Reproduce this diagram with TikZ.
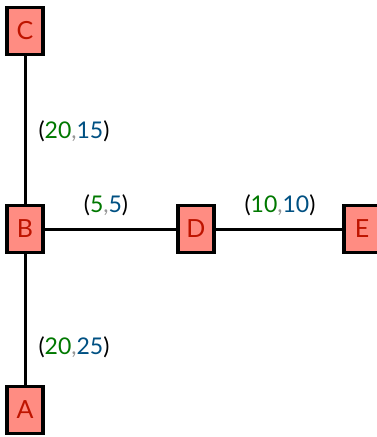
\documentclass[tikz,border=0pt]{standalone}
\usepackage{fontspec}
\setmainfont{Lato}
\definecolor{boxfill}{RGB}{255,140,130}
\definecolor{boxtext}{RGB}{190,20,0}
\definecolor{numgreen}{RGB}{0,120,0}
\definecolor{numblue}{RGB}{0,80,130}
\definecolor{commagray}{RGB}{150,150,150}
\tikzset{
  vbox/.style={draw=black, fill=boxfill, line width=3.2pt, minimum width=36pt, minimum height=47pt, inner sep=0pt, text=boxtext, font=\fontsize{25}{25}\selectfont},
  conn/.style={line width=3pt},
  lbl/.style={font=\fontsize{23}{23}\selectfont, inner sep=0pt}
}
\newcommand{\pairlbl}[2]{(\textcolor{numgreen}{#1}\textcolor{commagray}{,}\textcolor{numblue}{#2})}
\begin{document}
\begin{tikzpicture}[x=1pt,y=-1pt]
\useasboundingbox (0,0) rectangle (377,437);
\clip (0,0) rectangle (377,437);
\node[vbox] (C) at (25,31) {C};
\node[vbox] (B) at (25,229) {B};
\node[vbox] (A) at (25,410) {A};
\node[vbox] (D) at (196,229) {D};
\node[vbox] (E) at (362,229) {E};
\draw[conn] (C) -- (B);
\draw[conn] (B) -- (A);
\draw[conn] (B) -- (D);
\draw[conn] (D) -- (E);
\node[lbl] (l1) at (74,131) {\pairlbl{20}{15}};
\node[lbl] (l2) at (106,205) {\pairlbl{5}{5}};
\node[lbl] (l3) at (280,205) {\pairlbl{10}{10}};
\node[lbl] (l4) at (74,347) {\pairlbl{20}{25}};
\end{tikzpicture}
\end{document}
